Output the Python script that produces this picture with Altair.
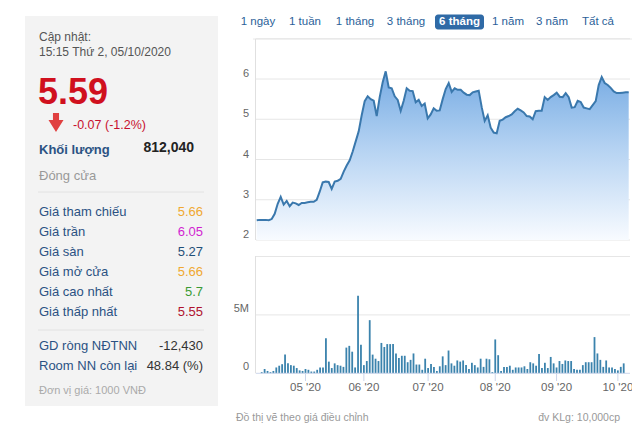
import altair as alt
import pandas as pd

# ---------------- data ----------------
price = [
    2.49, 2.50, 2.50, 2.50, 2.49, 2.52, 2.65, 2.90, 3.07, 2.88,
    2.97, 2.84, 2.93, 2.91, 2.87, 2.92, 2.92, 2.94, 2.95, 2.95,
    3.00, 3.20, 3.43, 3.45, 3.44, 3.27, 3.45, 3.47, 3.52, 3.70,
    3.85, 3.98, 4.20, 4.45, 4.70, 5.10, 5.45, 5.57, 5.50, 5.46,
    5.08, 5.55, 5.92, 6.19, 5.79, 5.77, 5.57, 5.48, 5.21, 5.46,
    5.77, 5.71, 5.70, 5.42, 5.48, 5.33, 5.39, 5.02, 5.12, 5.27,
    5.21, 5.22, 5.50, 5.75, 5.90, 5.68, 5.77, 5.73, 5.73, 5.66,
    5.61, 5.60, 5.67, 5.69, 5.71, 5.30, 4.96, 5.10, 4.79, 4.67,
    4.65, 4.96, 4.99, 5.05, 5.08, 5.12, 5.20, 5.26, 5.22, 5.17,
    5.08, 5.07, 5.00, 5.20, 5.21, 5.21, 5.55, 5.48, 5.55, 5.60,
    5.66, 5.56, 5.55, 5.65, 5.55, 5.29, 5.30, 5.46, 5.43, 5.29,
    5.27, 5.25, 5.35, 5.45, 5.85, 6.05, 5.90, 5.85, 5.78, 5.69,
    5.65, 5.65, 5.66, 5.67, 5.67,
]
volume_m = [
    0.1, 0.37, 0.2, 0.1, 0.2, 0.5, 0.65, 0.78, 1.6, 0.85,
    0.7, 0.65, 0.45, 0.25, 0.2, 0.37, 0.3, 0.15, 0.15, 0.3,
    0.5, 0.5, 3.0, 1.0, 0.45, 0.85, 0.7, 0.65, 0.55, 2.2,
    2.35, 1.85, 0.5, 6.65, 2.45, 0.7, 1.05, 4.55, 1.6, 1.25,
    1.05, 2.6, 2.25, 2.5, 2.5, 2.5, 1.7, 1.3, 1.5, 1.5,
    0.95, 1.15, 1.7, 0.75, 0.75, 0.3, 1.25, 0.45, 0.8, 0.55,
    0.2, 0.6, 1.45, 0.7, 1.95, 0.85, 0.65, 1.1, 1.0, 1.1,
    0.7, 0.37, 0.9, 0.7, 0.5, 1.25, 0.55, 1.25, 1.2, 0.1,
    2.9, 1.55, 0.2, 0.55, 0.55, 0.65, 0.3, 0.5, 0.5, 0.5,
    0.6, 0.37, 0.95, 0.85, 0.65, 1.65, 0.45, 0.9, 0.45, 1.4,
    0.85, 0.5, 1.05, 0.8, 1.1, 1.05, 1.05, 0.37, 0.3, 0.3,
    0.7, 0.95, 0.95, 0.95, 3.1, 1.7, 1.15, 0.55, 1.1, 0.5,
    0.5, 0.37, 0.25, 0.55, 0.85,
]
month_idx = [15, 35, 57, 80, 101, 122]
month_labels = ["05 '20", "06 '20", "07 '20", "08 '20", "09 '20", "10 '20"]
price_ticks = [2, 3, 4, 5, 6]
price_grid = [2, 3, 4, 5, 6, 7]
vol_ticks = [0, 5]
vol_tick_labels = ["0", "5M"]
vol_grid = [5, 10]

range_buttons = ["1 ngày", "1 tuần", "1 tháng", "3 tháng", "6 tháng", "1 năm", "3 năm", "Tất cả"]
stat_labels = ["Giá tham chiếu", "Giá trần", "Giá sàn", "Giá mở cửa", "Giá cao nhất", "Giá thấp nhất"]
stat_values = ["5.66", "6.05", "5.27", "5.66", "5.7", "5.55"]
stat_colors = ["#f0a830", "#d11fd1", "#1f4f78", "#f0a830", "#3a9a34", "#b0122e"]

FONT = "Arial, Liberation Sans, sans-serif"
M = 8  # page margin


def one():
    return pd.DataFrame({"a": [0]})


def T(s, x, y, size=13, color="#333", align="left", weight="normal"):
    return alt.Chart(pd.DataFrame({"t": [s]})).mark_text(
        align=align, baseline="middle", fontSize=size, color=color,
        fontWeight=weight, font=FONT
    ).encode(x=alt.value(x - M), y=alt.value(y - M), text="t:N")


def RECT(x1, x2, y1, y2, color, **kw):
    return alt.Chart(one()).mark_rect(color=color, **kw).encode(
        x=alt.value(x1 - M), x2=alt.value(x2 - M), y=alt.value(y1 - M), y2=alt.value(y2 - M))


def HL(x1, x2, y, color):
    return alt.Chart(one()).mark_rule(color=color, strokeWidth=1).encode(
        x=alt.value(x1 - M), x2=alt.value(x2 - M), y=alt.value(y - M))


def VL(x, y1, y2, color):
    return alt.Chart(one()).mark_rule(color=color, strokeWidth=1).encode(
        x=alt.value(x - M), y=alt.value(y1 - M), y2=alt.value(y2 - M))


# ---------------- left info panel ----------------
LBL = "#2b5283"
left = [
    RECT(25, 218, 16, 406, "#f3f3f3"),
    T("Cập nhật:", 39, 37, 12, "#555"),
    T("15:15 Thứ 2, 05/10/2020", 39, 52, 12, "#555"),
    T("5.59", 38, 93, 36, "#d0101e", weight="bold"),
    alt.Chart(one()).mark_point(
        shape="M-0.32,-1L0.32,-1L0.32,-0.26L0.79,-0.26L0,1L-0.79,-0.26L-0.32,-0.26Z",
        filled=True, size=361, color="#e04040", opacity=1, strokeWidth=0
    ).encode(x=alt.value(56 - M), y=alt.value(122.5 - M)),
    T("-0.07 (-1.2%)", 73, 125, 12.5, "#c8102e"),
    T("Khối lượng", 39, 150, 13, LBL, weight="bold"),
    T("812,040", 194, 148, 14, "#222", align="right", weight="bold"),
    T("Đóng cửa", 39, 176, 13, "#999"),
    HL(38, 204, 192, "#e2e2e2"),
    HL(38, 204, 330, "#e2e2e2"),
    T("GD ròng NĐTNN", 39, 346, 13, LBL),
    T("-12,430", 203, 346, 13, "#333", align="right"),
    T("Room NN còn lại", 39, 366, 13, LBL),
    T("48.84 (%)", 203, 366, 13, "#333", align="right"),
    T("Đơn vị giá: 1000 VNĐ", 39, 391, 11, "#aaa"),
]
row_y = [212, 232, 252, 272, 292, 312]
for lab, val, col, yy in zip(stat_labels, stat_values, stat_colors, row_y):
    left.append(T(lab, 39, yy, 13, LBL))
    left.append(T(val, 203, yy, 13, col, align="right"))

# ---------------- range buttons ----------------
btn_x = [258, 305, 355, 406, 459.5, 508, 552, 598]
top = [RECT(435, 484, 14.5, 29.5, "#2f6aa6", cornerRadius=3)]
for lab, bx in zip(range_buttons, btn_x):
    if lab == "6 tháng":
        top.append(T(lab, bx, 22, 11.5, "white", align="center", weight="bold"))
    else:
        top.append(T(lab, bx, 22, 11.5, "#2c5f99", align="center"))
top.append(HL(253, 632, 39, "#e8e8e8"))

# ---------------- scales ----------------
xs = alt.Scale(domain=[0, 124], range=[256.7 - M, 628.7 - M])
ps = alt.Scale(domain=[2, 7], range=[240 - M, 38.75 - M])
vs = alt.Scale(domain=[0, 10], range=[373.3 - M, 256.5 - M])

pdf = pd.DataFrame({"i": list(range(len(price))), "p": price})
vdf = pd.DataFrame({"i": list(range(len(volume_m))), "v": volume_m})

grad = alt.Gradient(
    gradient="linear",
    stops=[alt.GradientStop(color="#76abe3", offset=0),
           alt.GradientStop(color="#b4d2f2", offset=0.45),
           alt.GradientStop(color="#f8fbff", offset=1)],
    x1=0, x2=0, y1=0, y2=1,
)

p_grid = alt.Chart(pd.DataFrame({"g": price_grid})).mark_rule(color="#e6e6e6").encode(
    y=alt.Y("g:Q", scale=ps, axis=None), x=alt.value(256 - M), x2=alt.value(630 - M))
p_area = alt.Chart(pdf).mark_area(color=grad, opacity=1).encode(
    x=alt.X("i:Q", scale=xs, axis=None),
    y=alt.Y("p:Q", scale=ps, axis=None),
    y2=alt.datum(2))
p_line = alt.Chart(pdf).mark_line(color="#3a78ad", strokeWidth=2).encode(
    x=alt.X("i:Q", scale=xs, axis=None),
    y=alt.Y("p:Q", scale=ps, axis=None))
p_lab = alt.Chart(pd.DataFrame({"g": price_ticks})).mark_text(
    align="right", baseline="middle", dy=-5, fontSize=11, color="#666", font=FONT
).encode(y=alt.Y("g:Q", scale=ps, axis=None), x=alt.value(249 - M), text="g:Q")
price_layer = alt.layer(p_grid, p_area, p_line, p_lab)

v_grid = alt.Chart(pd.DataFrame({"g": vol_grid})).mark_rule(color="#e6e6e6").encode(
    y=alt.Y("g:Q", scale=vs, axis=None), x=alt.value(256 - M), x2=alt.value(630 - M))
v_base = alt.Chart(pd.DataFrame({"g": [0]})).mark_rule(color="#ccd6eb").encode(
    y=alt.Y("g:Q", scale=vs, axis=None), x=alt.value(256 - M), x2=alt.value(630 - M))
v_bars = alt.Chart(vdf).mark_bar(size=1.8, color="#3b83ad").encode(
    x=alt.X("i:Q", scale=xs, axis=None),
    y=alt.Y("v:Q", scale=vs, axis=None),
    y2=alt.datum(0))
v_lab = alt.Chart(pd.DataFrame({"g": vol_ticks, "t": vol_tick_labels})).mark_text(
    align="right", baseline="middle", dy=-6, fontSize=11, color="#666", font=FONT
).encode(y=alt.Y("g:Q", scale=vs, axis=None), x=alt.value(249 - M), text="t:N")
mdf = pd.DataFrame({"i": month_idx, "t": month_labels})
m_ticks = alt.Chart(mdf).mark_rule(color="#ccd6eb").encode(
    x=alt.X("i:Q", scale=xs, axis=None), y=alt.value(373.5 - M), y2=alt.value(381 - M))
m_lab = alt.Chart(mdf).mark_text(
    align="center", baseline="middle", fontSize=11.5, color="#666", font=FONT
).encode(x=alt.X("i:Q", scale=xs, axis=None), y=alt.value(388 - M), text="t:N")
vol_layer = alt.layer(v_grid, v_bars, v_base, v_lab, m_ticks, m_lab)

frame = [
    VL(255.5, 38.75, 240, "#e0e0e0"),
    VL(255.5, 256, 373.3, "#e0e0e0"),
    T("Đồ thị vẽ theo giá điều chỉnh", 236, 418, 10.5, "#999"),
    T("đv KLg: 10,000cp", 620, 418, 10.5, "#999", align="right"),
    HL(230, 632, 427.5, "#e6e6e6"),
]

chart = alt.layer(
    *left, *top, *frame, price_layer, vol_layer
).resolve_scale(
    x="independent", y="independent"
).properties(
    width=624, height=418, padding=0,
    autosize=alt.AutoSizeParams(type="none"),
    background="white",
).configure_view(stroke=None)

chart.save("out.html", embed_options={"renderer": "svg", "actions": False})
